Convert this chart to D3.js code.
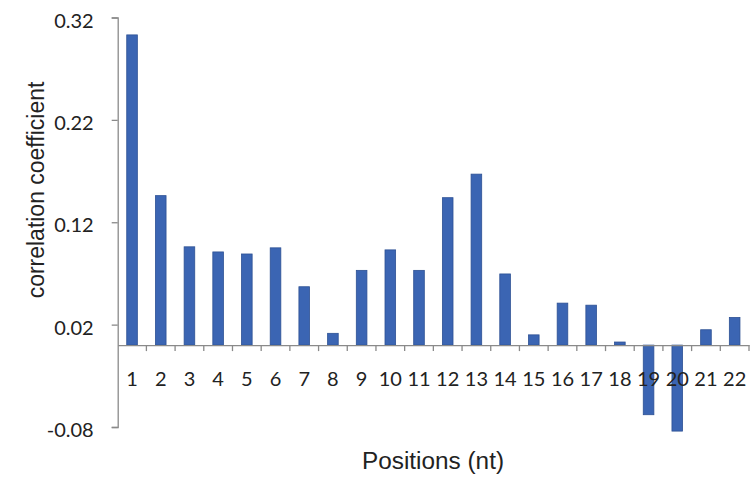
<!DOCTYPE html>
<html>
<head>
<meta charset="utf-8">
<script src="https://cdn.jsdelivr.net/npm/d3@7"></script>
<style>
  html, body { margin: 0; padding: 0; background: #ffffff; }
  svg { display: block; }
</style>
</head>
<body>
<svg id="chart" width="755" height="479"></svg>
<script>
const categories = ["1","2","3","4","5","6","7","8","9","10","11","12","13","14","15","16","17","18","19","20","21","22"];
const values = [0.303, 0.146, 0.096, 0.091, 0.089, 0.095, 0.057, 0.0115, 0.073, 0.093, 0.073, 0.144, 0.167, 0.0695, 0.010, 0.041, 0.039, 0.003, -0.068, -0.084, 0.015, 0.027];
const yTicks = [-0.08, 0.02, 0.12, 0.22, 0.32];
const yTickLabels = ["-0.08", "0.02", "0.12", "0.22", "0.32"];
const xTitle = "Positions (nt)";
const yTitle = "correlation coefficient";

const svg = d3.select("#chart");
const plotLeft = 117.7, plotRight = 749, plotTop = 17.5, plotBottom = 427;

const y = d3.scaleLinear().domain([-0.08, 0.32]).range([plotBottom, plotTop]);
const x = d3.scaleBand().domain(categories).range([plotLeft, plotRight]).paddingInner(0.63).paddingOuter(0.315);

const axisColor = "#8a8a8a";
const numFont = "Lato, 'Open Sans', sans-serif";
const titleFont = "'Liberation Sans', Arial, sans-serif";

// bars
svg.append("g").selectAll("rect").data(values).join("rect")
  .attr("x", (d, i) => x(categories[i]))
  .attr("width", x.bandwidth())
  .attr("y", d => y(Math.max(0, d)))
  .attr("height", d => Math.abs(y(d) - y(0)))
  .attr("fill", "#3b65b3")
  .attr("stroke", "#2d5194")
  .attr("stroke-width", 0.8);

// y axis
const yAxis = d3.axisLeft(y).tickValues(yTicks).tickSize(6).tickPadding(18)
  .tickFormat((d, i) => yTickLabels[i]);
const gy = svg.append("g").attr("transform", `translate(${plotLeft},0)`).call(yAxis);
gy.select(".domain").attr("stroke", axisColor).attr("stroke-width", 1.3);
gy.selectAll(".tick line").attr("stroke", axisColor).attr("stroke-width", 1.3);
gy.selectAll(".tick text").attr("font-family", numFont).attr("font-size", 20).attr("fill", "#222").attr("dy", "0.48em");

// x axis at zero
const xAxis = d3.axisBottom(x).tickSize(0).tickPadding(27);
const gx = svg.append("g").attr("transform", `translate(0,${y(0)})`).call(xAxis);
gx.select(".domain").attr("stroke", axisColor).attr("stroke-width", 1.3);
gx.selectAll(".tick text").attr("font-family", numFont).attr("font-size", 20).attr("fill", "#222");

// boundary tick marks
const bounds = categories.map(c => x(c) + x.bandwidth() / 2 + x.step() / 2);
gx.selectAll(".btick").data(bounds).join("line")
  .attr("class", "btick")
  .attr("x1", d => d).attr("x2", d => d)
  .attr("y1", 0).attr("y2", 6)
  .attr("stroke", axisColor).attr("stroke-width", 1.3);

// titles
svg.append("text")
  .attr("x", 433).attr("y", 469)
  .attr("text-anchor", "middle")
  .attr("font-family", titleFont).attr("font-size", 23).attr("fill", "#222")
  .attr("textLength", 142).attr("lengthAdjust", "spacingAndGlyphs")
  .text(xTitle);

svg.append("text")
  .attr("transform", "translate(44,190) scale(1.07,1) rotate(-90)")
  .attr("text-anchor", "middle")
  .attr("font-family", titleFont).attr("font-size", 23).attr("fill", "#222")
  .text(yTitle);
</script>
</body>
</html>
